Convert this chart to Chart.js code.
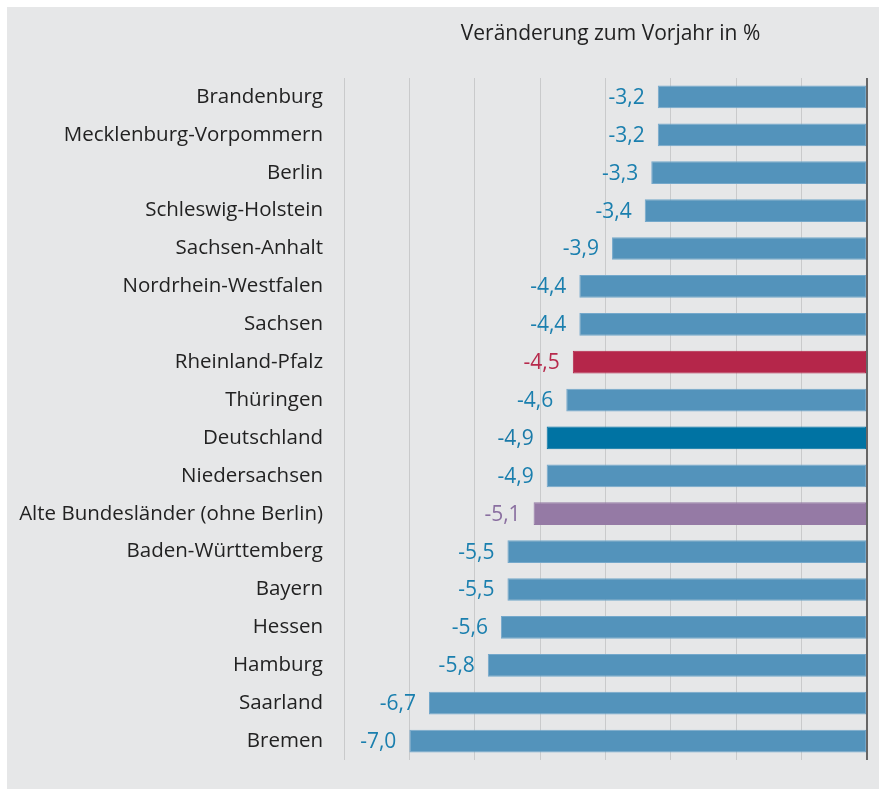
<!DOCTYPE html>
<html><head><meta charset="utf-8">
<script src="https://cdn.jsdelivr.net/npm/chart.js@4.4.0/dist/chart.umd.min.js"></script>
<style>
html,body{margin:0;padding:0;background:#ffffff;}
#wrap{position:absolute;left:7px;top:7px;width:872px;height:782px;background:#e6e7e8;}
canvas{display:block;}
</style></head>
<body><div id="wrap"><canvas id="c" width="872" height="782"></canvas></div>
<script>
const categories = ["Brandenburg","Mecklenburg-Vorpommern","Berlin","Schleswig-Holstein","Sachsen-Anhalt","Nordrhein-Westfalen","Sachsen","Rheinland-Pfalz","Thüringen","Deutschland","Niedersachsen","Alte Bundesländer (ohne Berlin)","Baden-Württemberg","Bayern","Hessen","Hamburg","Saarland","Bremen"];
const values = [-3.2,-3.2,-3.3,-3.4,-3.9,-4.4,-4.4,-4.5,-4.6,-4.9,-4.9,-5.1,-5.5,-5.5,-5.6,-5.8,-6.7,-7.0];
const axisTicks = [-8,-7,-6,-5,-4,-3,-2,-1,0];
const axisTitle = "Veränderung zum Vorjahr in %";

const highlight = {"Rheinland-Pfalz":["#b5264a","#b5264a","#b72a4c"],"Deutschland":["#0073a3","#0073a3","#1a7aa8"],"Alte Bundesländer (ohne Berlin)":["#957aa5","#957aa5","#8a6fa0"]};
const base = ["#5393bb","#74a8cb","#1a7fae"];
const col = i => highlight[categories[i]] || base;

const FONT = "'Open Sans', 'Noto Sans', sans-serif";

const labelPlugin = {
  id:'labels',
  afterDatasetsDraw(chart){
    const ctx = chart.ctx;
    const meta = chart.getDatasetMeta(0);
    ctx.save();
    ctx.font = "21px " + FONT;
    ctx.textAlign = 'right';
    ctx.textBaseline = 'middle';
    meta.data.forEach((el,i)=>{
      ctx.fillStyle = col(i)[2];
      ctx.fillText(values[i].toFixed(1).replace('.',','), el.x - 13, el.y + 1);
    });
    ctx.font = "21px " + FONT;
    ctx.fillStyle = '#222';
    ctx.textAlign = 'center';
    const ca = chart.chartArea;
    ctx.fillText(axisTitle, (ca.left+ca.right)/2 + 5, 27);
    ctx.restore();
  }
};

new Chart(document.getElementById('c'), {
  type:'bar',
  data:{labels:categories, datasets:[{
    data:values,
    backgroundColor: ctx => col(ctx.dataIndex)[0],
    borderColor: ctx => col(ctx.dataIndex)[1],
    borderWidth: 1,
    borderSkipped: false,
    barPercentage: 0.6,
    categoryPercentage: 1.0
  }]},
  options:{
    indexAxis:'y',
    responsive:false,
    animation:false,
    layout:{padding:{left:0,right:12,top:71,bottom:0}},
    plugins:{legend:{display:false},tooltip:{enabled:false}},
    scales:{
      x:{
        position:'bottom',
        min:-8,max:0,
        afterBuildTicks: s => { s.ticks = axisTicks.map(v=>({value:v})); },
        afterFit: s => { s.height = 29; },
        ticks:{display:false},
        border:{display:false},
        grid:{
          drawTicks:false,
          color: c => c.tick && c.tick.value===0 ? '#666666' : '#c9cacb',
          lineWidth: c => c.tick && c.tick.value===0 ? 2 : 1
        }
      },
      y:{
        afterFit: s => { s.width = 337; },
        grid:{display:false},
        border:{display:false},
        ticks:{color:'#222', padding:13, font:{family:FONT, size:20.5}}
      }
    }
  },
  plugins:[labelPlugin]
});
</script>
</body></html>
